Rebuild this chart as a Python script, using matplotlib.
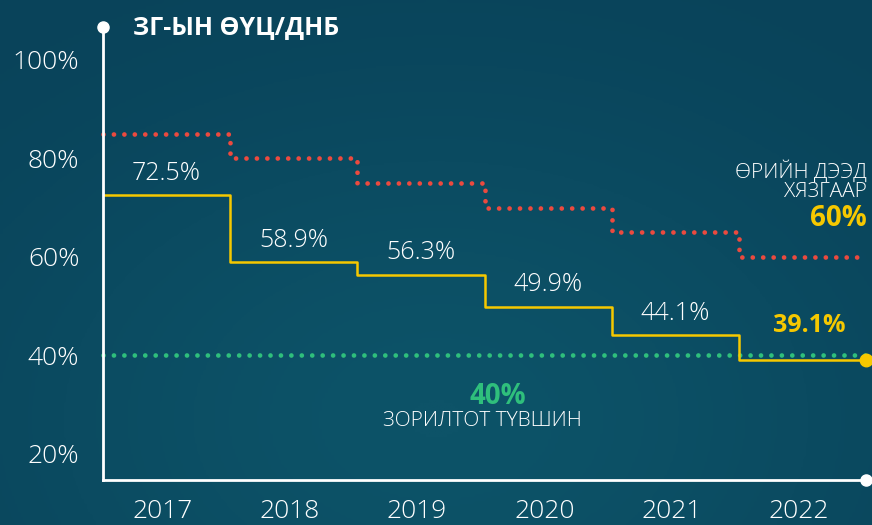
import matplotlib.pyplot as plt
from matplotlib.colors import LinearSegmentedColormap
import numpy as np

years = ['2017', '2018', '2019', '2020', '2021', '2022']
debt_ratio = [72.5, 58.9, 56.3, 49.9, 44.1, 39.1]
debt_limit = [85, 80, 75, 70, 65, 60]
target = 40
yticks = [20, 40, 60, 80, 100]

bg = '#0b4a5e'
yellow = '#f6c800'
red = '#ec4a3f'
green = '#2fbf7c'

plt.rcParams['font.family'] = ['Open Sans', 'DejaVu Sans']

fig = plt.figure(figsize=(8.72, 5.25), dpi=100)
fig.patch.set_facecolor(bg)

# background gradient, slightly lighter low in the middle
bgax = fig.add_axes([0, 0, 1, 1], zorder=-10)
yy, xx = np.mgrid[0:1:200j, 0:1:300j]
grad = np.exp(-((xx - 0.5) ** 2 / 0.3 + (yy - 0.2) ** 2 / 0.4))
cmap = LinearSegmentedColormap.from_list('bg', ['#09435a', '#0d5368'])
bgax.imshow(grad, cmap=cmap, extent=[0, 1, 0, 1], aspect='auto', origin='lower')
bgax.axis('off')

ax = fig.add_axes([103 / 872, 45 / 525, 763 / 872, 453 / 525])
ax.set_facecolor('none')
n = len(years)
edges = np.arange(n + 1)
ax.set_xlim(0, n)
ax.set_ylim(14.7, 106.7)

dots = (0, (0.01, 2.2))
# target line
ax.plot([0, n + 0.02], [target, target], color=green, lw=3.4, linestyle=dots,
        dash_capstyle='round', clip_on=False)
# limit line
ax.plot(edges, debt_limit + [debt_limit[-1]], drawstyle='steps-post', color=red, lw=3.4,
        linestyle=dots, dash_capstyle='round', clip_on=False)
# debt ratio line
ax.plot(edges, debt_ratio + [debt_ratio[-1]], drawstyle='steps-post', color=yellow, lw=1.8)
ax.plot([n], [debt_ratio[-1]], 'o', color=yellow, ms=9, clip_on=False)

for i, v in enumerate(debt_ratio[:-1]):
    ax.annotate(f'{v}%', (i + 0.5, v), xytext=(0, 7), textcoords='offset points',
                ha='center', va='bottom', color='white', fontsize=18, fontweight='light')
ax.annotate(f'{debt_ratio[-1]}%', (n - 0.45, debt_ratio[-1]), xytext=(0, 16), textcoords='offset points',
            ha='center', va='bottom', color=yellow, fontsize=18, fontweight='bold')

# axes lines
for s in ['top', 'right']:
    ax.spines[s].set_visible(False)
for s in ['left', 'bottom']:
    ax.spines[s].set_color('white')
    ax.spines[s].set_linewidth(2)
ax.plot([0], [106.7], 'o', color='white', ms=8, clip_on=False)
ax.plot([n], [14.7], 'o', color='white', ms=8, clip_on=False)

ax.set_yticks(yticks)
ax.set_yticklabels([f'{t}%' for t in yticks])
ax.set_xticks(np.arange(n) + 0.47)
ax.set_xticklabels(years)
ax.tick_params(length=0, colors='white', labelsize=19)
ax.tick_params(axis='y', pad=17)
ax.tick_params(axis='x', pad=14)
for lab in ax.get_xticklabels() + ax.get_yticklabels():
    lab.set_fontweight('light')

fig.text(133 / 872, 1 - 28 / 525, 'ЗГ-ЫН ӨҮЦ/ДНБ', color='white', fontsize=18, fontweight='bold',
         va='center', ha='left')
fig.text(867 / 872, 1 - 172 / 525, 'ӨРИЙН ДЭЭД', color='white', fontsize=15, fontweight='light',
         va='center', ha='right')
fig.text(867 / 872, 1 - 192 / 525, 'ХЯЗГААР', color='white', fontsize=15, fontweight='light',
         va='center', ha='right')
fig.text(867 / 872, 1 - 218 / 525, f'{debt_limit[-1]}%', color=yellow, fontsize=20, fontweight='bold',
         va='center', ha='right')
fig.text(498 / 872, 1 - 397 / 525, f'{target}%', color=green, fontsize=20, fontweight='bold',
         va='center', ha='center')
fig.text(482 / 872, 1 - 421 / 525, 'ЗОРИЛТОТ ТҮВШИН', color='white', fontsize=15, fontweight='light',
         va='center', ha='center')

fig.savefig('out.png', dpi=100, facecolor=fig.get_facecolor())
